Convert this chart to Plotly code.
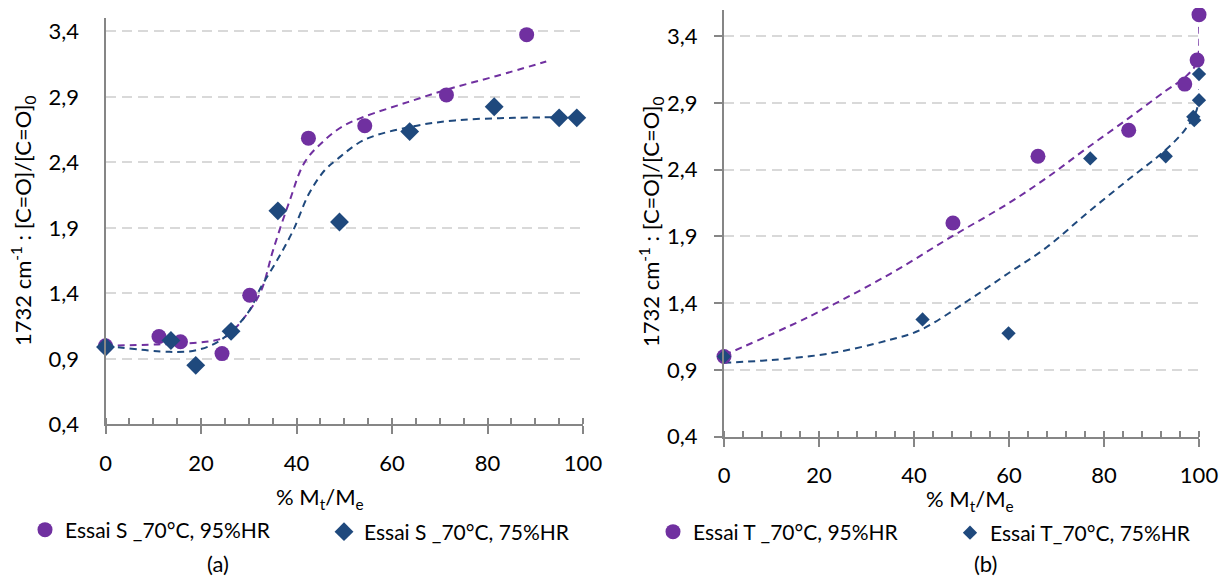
import plotly.graph_objects as go

# ---------- data (a) ----------
a95_x = [0, 11.2, 15.7, 24.4, 30.2, 42.5, 54.3, 71.4, 88.2]
a95_y = [1.0, 1.07, 1.03, 0.94, 1.385, 2.585, 2.68, 2.915, 3.375]
a75_x = [0, 13.7, 18.9, 26.3, 36.1, 49.0, 63.7, 81.4, 95.0, 98.7]
a75_y = [0.99, 1.04, 0.85, 1.11, 2.03, 1.945, 2.635, 2.825, 2.74, 2.74]
a95_fit_x = [0, 11, 21, 25.2, 29.7, 32.6, 35.1, 38.5, 41.7, 45.9, 49.9, 54.3, 63.3, 71.9, 81.9, 92.3]
a95_fit_y = [1.0, 1.01, 1.03, 1.07, 1.245, 1.42, 1.73, 2.1, 2.4, 2.57, 2.68, 2.75, 2.86, 2.96, 3.06, 3.17]
a75_fit_x = [0, 13.4, 19.1, 24, 29.7, 32.6, 35.9, 39.3, 42.6, 45.9, 48.4, 54.1, 63.7, 73.2, 85.6, 98.7]
a75_fit_y = [1.0, 0.953, 0.966, 1.04, 1.245, 1.45, 1.65, 1.88, 2.16, 2.34, 2.42, 2.57, 2.67, 2.72, 2.74, 2.745]

# ---------- data (b) ----------
b95_x = [0, 48.2, 66.1, 85.2, 97.0, 99.6, 100]
b95_y = [1.0, 2.0, 2.5, 2.695, 3.04, 3.22, 3.56]
b75_x = [0, 41.8, 59.9, 77.1, 93.0, 98.8, 99.0, 100, 100]
b75_y = [1.0, 1.278, 1.174, 2.484, 2.50, 2.795, 2.77, 2.92, 3.115]
b95_fit_x = [0, 18, 35, 48, 60, 68, 76, 85, 93, 97, 99.5, 100]
b95_fit_y = [1.01, 1.30, 1.62, 1.90, 2.15, 2.34, 2.55, 2.78, 2.99, 3.09, 3.2, 3.5]
b75_fit_x = [0, 9.9, 22.3, 34.8, 41.4, 51.4, 59.7, 68, 76.3, 84.6, 92.9, 97, 99.5, 100]
b75_fit_y = [0.954, 0.974, 1.024, 1.124, 1.2, 1.42, 1.62, 1.82, 2.07, 2.31, 2.545, 2.696, 2.845, 3.0]

y_ticks = [0.4, 0.9, 1.4, 1.9, 2.4, 2.9, 3.4]
x_ticks = [0, 20, 40, 60, 80, 100]

legend_a = ["Essai S _70°C, 95%HR", "Essai S _70°C, 75%HR"]
legend_b = ["Essai T _70°C, 95%HR", "Essai T_70°C, 75%HR"]
captions = ["(a)", "(b)"]

PURPLE = "#7030A0"
BLUE = "#1F497D"
AXIS = "#868686"
GRID = "#D9D9D9"
FONT = "Lato"
FS = 22

# the page body has an 8px margin: figure is placed at (8, 8)
OFF = 8
W, H = 1231 - OFF, 578 - OFF

def PX(x):
    return (x - OFF) / W

def PY(y):
    return 1 - (y - OFF) / H

fig = go.Figure()

def add_panel(xa, ya, legs, x95, y95, x75, y75, f95x, f95y, f75x, f75y, names, dsize):
    fig.add_trace(go.Scatter(x=f95x, y=f95y, mode="lines", xaxis=xa, yaxis=ya,
                             line=dict(color=PURPLE, width=2, dash="7px,5px", shape="spline"),
                             showlegend=False, hoverinfo="skip"))
    fig.add_trace(go.Scatter(x=f75x, y=f75y, mode="lines", xaxis=xa, yaxis=ya,
                             line=dict(color=BLUE, width=2, dash="7px,5px", shape="spline"),
                             showlegend=False, hoverinfo="skip"))
    fig.add_trace(go.Scatter(x=x95, y=y95, mode="markers", xaxis=xa, yaxis=ya, name=names[0],
                             legend=legs[0], cliponaxis=False,
                             marker=dict(symbol="circle", size=15, color=PURPLE)))
    fig.add_trace(go.Scatter(x=x75, y=y75, mode="markers", xaxis=xa, yaxis=ya, name=names[1],
                             legend=legs[1], cliponaxis=False,
                             marker=dict(symbol="diamond", size=dsize, color=BLUE)))

add_panel("x", "y", ["legend", "legend2"], a95_x, a95_y, a75_x, a75_y,
          a95_fit_x, a95_fit_y, a75_fit_x, a75_fit_y, legend_a, 14.5)
add_panel("x2", "y2", ["legend3", "legend4"], b95_x, b95_y, b75_x, b75_y,
          b95_fit_x, b95_fit_y, b75_fit_x, b75_fit_y, legend_b, 11)

ytitle = "1732 cm<sup>-1</sup> : [C=O]/[C=O]<sub>0</sub>"
xtitle = "% M<sub>t</sub>/M<sub>e</sub>"

def xaxis(x0, x1, anchor, minor_dtick):
    return dict(domain=[PX(x0), PX(x1)], anchor=anchor, range=[0, 100], tickvals=x_ticks,
                showline=True, linecolor=AXIS, linewidth=2, showgrid=False, automargin=False,
                zeroline=False, ticks="outside", ticklen=8, tickwidth=2, tickcolor=AXIS,
                minor=dict(dtick=minor_dtick, ticks="inside", ticklen=6, tickwidth=2,
                           tickcolor=AXIS, showgrid=False),
                tickfont=dict(size=FS, color="#000000"), ticklabelstandoff=10)

def yaxis(ybot, ytop, anchor, top, ticks, standoff):
    return dict(domain=[PY(ybot), PY(ytop)], anchor=anchor, range=[0.4, top], tickvals=y_ticks,
                tickformat=".1f", showline=True, linecolor=AXIS, linewidth=2, automargin=False,
                showgrid=True, gridcolor=GRID, gridwidth=2, griddash="10px,6px",
                zeroline=False, ticks=ticks, ticklen=8, tickwidth=2, tickcolor=AXIS,
                tickfont=dict(size=FS, color="#000000"), ticklabelstandoff=standoff)

def ann(text, x, y, angle=0):
    return dict(text=text, x=PX(x), y=PY(y), xref="paper", yref="paper",
                xanchor="center", yanchor="middle", showarrow=False, textangle=angle,
                font=dict(size=FS, color="#000000", family=FONT))

def leg(x, y):
    return dict(orientation="h", x=PX(x), y=PY(y), xanchor="left", yanchor="middle",
                font=dict(size=21, color="#000000"), itemsizing="trace",
                bgcolor="rgba(0,0,0,0)")

fig.update_layout(
    width=W, height=H, margin=dict(l=0, r=0, t=0, b=0),
    paper_bgcolor="white", plot_bgcolor="white",
    font=dict(family=FONT, size=FS, color="#000000"),
    separators=",.",
    xaxis=xaxis(105.5, 583, "y", 5),
    yaxis=yaxis(424.3, 18.3, "x", 3.5, "", 20),
    xaxis2=xaxis(724, 1199, "y2", 4),
    yaxis2=yaxis(436.7, 10, "x2", 3.595, "outside", 12),
    legend=leg(25, 530),
    legend2=leg(324, 532),
    legend3=leg(653, 532),
    legend4=leg(950, 533),
    annotations=[
        ann(xtitle, 320, 498),
        ann(xtitle, 970, 500),
        ann(ytitle, 23, 221, -90),
        ann(ytitle, 651, 222, -90),
        ann(captions[0], 218, 563),
        ann(captions[1], 985, 563),
    ],
)

fig.write_html("out.html")
